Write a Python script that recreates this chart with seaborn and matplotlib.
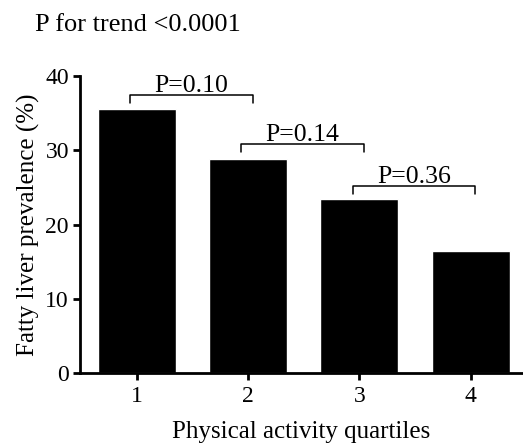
import matplotlib
matplotlib.use("Agg")
import matplotlib.pyplot as plt
import seaborn as sns
import pandas as pd

# Fatty liver prevalence by physical activity quartile
quartiles = ["1", "2", "3", "4"]
prevalence = [35.5, 28.8, 23.4, 16.5]

# Pairwise comparisons between adjacent quartiles
pair_left = [1, 2, 3]
pair_right = [2, 3, 4]
pair_labels = ["P=0.10", "P=0.14", "P=0.36"]
bracket_y = [37.4, 30.9, 25.2]

sns.set_theme(style="ticks")
plt.rcParams["font.family"] = ["Liberation Serif", "DejaVu Serif"]
plt.rcParams.update({
    "text.color": "black",
    "axes.labelcolor": "black",
    "xtick.color": "black",
    "ytick.color": "black",
    "axes.edgecolor": "black",
})

df = pd.DataFrame({"quartile": quartiles, "prevalence": prevalence})

fig = plt.figure(figsize=(5.23, 4.44), dpi=100)
ax = fig.add_axes([0.153, 0.159, 0.847, 0.670])

sns.barplot(data=df, x="quartile", y="prevalence", color="black",
            width=0.70, saturation=1, ax=ax)

ax.set_ylim(0, 40)
ax.set_xlim(-0.51, 3.47)
ax.set_yticks([0, 10, 20, 30, 40])

for s in ["top", "right"]:
    ax.spines[s].set_visible(False)
for s in ["left", "bottom"]:
    ax.spines[s].set_linewidth(2.0)

ax.tick_params(axis="both", direction="out", length=5, width=2.0)
ax.tick_params(axis="y", labelsize=17, pad=3)
ax.tick_params(axis="x", labelsize=17, pad=4)

ax.set_xlabel("Physical activity quartiles", fontsize=18, labelpad=10)
ax.set_ylabel("Fatty liver prevalence (%)", fontsize=18, labelpad=4)

# Comparison brackets
drop = 1.1
for l, r, lab, y in zip(pair_left, pair_right, pair_labels, bracket_y):
    x0 = l - 1 - 0.06
    x1 = r - 1 + 0.04
    ax.plot([x0, x0, x1, x1], [y - drop, y, y, y - drop], color="black",
            lw=1.1, clip_on=False)
    ax.text((x0 + x1) / 2, y + 0.4, lab, ha="center", va="baseline",
            fontsize=18.5, clip_on=False)

fig.text(0.067, 0.930, "P for trend <0.0001", fontsize=19, ha="left", va="baseline")

fig.savefig("out.png", dpi=100)
